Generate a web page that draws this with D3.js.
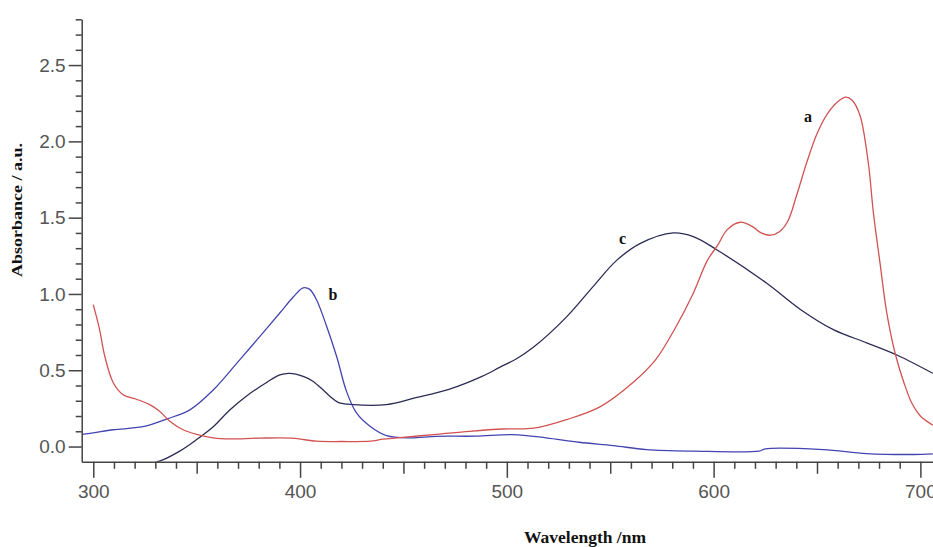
<!DOCTYPE html>
<html lang="en">
<head>
  <meta charset="UTF-8">
  <script src="https://d3js.org/d3.v7.min.js"></script>
  <title>Absorbance spectra</title>
  <style>
    body { margin: 0; background: #fff; }
    svg { display: block; }
  </style>
</head>
<body>
  <div id="chart"></div>
  <script>
    // curve a (red)
    const aWl  = [300, 303, 305.6, 309.6, 314.4, 320.9, 327.3, 332.2, 337, 343.4, 350, 358, 366, 380, 396, 408, 420, 434, 440, 447, 466, 482, 498, 513, 529, 545, 561, 572, 582, 590, 597, 602, 606.5, 612.8, 619, 623, 627.5, 632, 636, 640, 645, 650, 655, 660, 664, 667, 670.8, 674.8, 677.3, 680.5, 683.7, 688, 692, 696, 700, 706];
    const aAbs = [0.93, 0.77, 0.59, 0.42, 0.34, 0.31, 0.275, 0.23, 0.166, 0.11, 0.08, 0.057, 0.05, 0.055, 0.055, 0.035, 0.033, 0.035, 0.048, 0.057, 0.08, 0.10, 0.115, 0.12, 0.177, 0.26, 0.42, 0.57, 0.79, 1.0, 1.22, 1.32, 1.42, 1.47, 1.44, 1.40, 1.385, 1.41, 1.48, 1.64, 1.86, 2.05, 2.18, 2.26, 2.29, 2.27, 2.17, 1.86, 1.53, 1.20, 0.88, 0.60, 0.42, 0.28, 0.20, 0.14];

    // curve b (blue)
    const bWl  = [294.4, 300, 309.6, 324, 335.4, 346.7, 358, 370.9, 380.5, 390.2, 396.7, 401.5, 404.7, 408, 412.8, 417.7, 422.5, 427.3, 433.8, 441.8, 453, 466, 485, 503, 519, 535, 551.5, 567.6, 590, 622, 625, 653, 674, 696.6, 706];
    const bAbs = [0.08, 0.09, 0.11, 0.13, 0.18, 0.24, 0.37, 0.57, 0.72, 0.875, 0.98, 1.04, 1.03, 0.96, 0.79, 0.59, 0.36, 0.22, 0.133, 0.072, 0.057, 0.067, 0.068, 0.078, 0.057, 0.028, 0.006, -0.02, -0.03, -0.03, -0.015, -0.02, -0.046, -0.052, -0.048];

    // curve c (dark)
    const cWl  = [330.5, 332, 341.8, 350, 358, 366, 374, 383.8, 390.2, 395, 401.5, 406, 411.2, 414.4, 418.4, 425.7, 441.8, 456, 472, 488, 496.7, 504.7, 512.8, 528.9, 541.8, 553.1, 564.4, 580.5, 590.2, 601.5, 625.7, 641.8, 657.9, 674, 688.6, 706];
    const cAbs = [-0.1, -0.096, -0.03, 0.046, 0.13, 0.24, 0.33, 0.42, 0.47, 0.48, 0.46, 0.43, 0.37, 0.33, 0.29, 0.275, 0.275, 0.32, 0.375, 0.46, 0.52, 0.575, 0.65, 0.85, 1.05, 1.22, 1.33, 1.40, 1.376, 1.29, 1.07, 0.90, 0.766, 0.68, 0.60, 0.48];

    const xMajor = [300, 400, 500, 600, 700];
    const xMid   = [350, 450, 550, 650];
    const yMajor = [0, 0.5, 1.0, 1.5, 2.0, 2.5];

    const width = 933, height = 547;

    const svg = d3.select('#chart').append('svg')
      .attr('width', width)
      .attr('height', height);

    const x = d3.scaleLinear().domain([294.4, 706.1]).range([81.7, 933]);
    const y = d3.scaleLinear().domain([-0.1, 2.8]).range([461.8, 19.3]);

    // clip to plot area
    svg.append('clipPath').attr('id', 'plot')
      .append('rect')
      .attr('x', x.range()[0]).attr('y', y.range()[1])
      .attr('width', x.range()[1] - x.range()[0])
      .attr('height', y.range()[0] - y.range()[1]);

    const line = d3.line()
      .x(d => x(d[0]))
      .y(d => y(d[1]))
      .curve(d3.curveCatmullRom.alpha(0.5));

    const series = [
      { wl: cWl, abs: cAbs, color: '#2b2b55' },
      { wl: bWl, abs: bAbs, color: '#4444b0' },
      { wl: aWl, abs: aAbs, color: '#d25252' }
    ];

    svg.append('g').attr('clip-path', 'url(#plot)')
      .selectAll('path')
      .data(series)
      .enter()
      .append('path')
      .attr('d', s => line(d3.zip(s.wl, s.abs)))
      .attr('fill', 'none')
      .attr('stroke', s => s.color)
      .attr('stroke-width', 1.3);

    // axes
    const axisColor = '#444';
    const styleAxis = g => {
      g.selectAll('path, line').attr('stroke', axisColor).attr('stroke-width', 1.5);
      g.selectAll('text')
        .attr('fill', '#555')
        .style('font-family', '"Liberation Sans", Arial, sans-serif')
        .style('font-size', '19px');
    };

    const xMinor = d3.range(300, 710, 10).filter(v => v % 50 !== 0);

    svg.append('g')
      .attr('transform', `translate(0,${y(-0.1)})`)
      .call(d3.axisBottom(x).tickValues(xMinor).tickSize(7).tickSizeOuter(0).tickFormat(''))
      .call(g => g.select('.domain').remove())
      .call(styleAxis);

    svg.append('g')
      .attr('transform', `translate(0,${y(-0.1)})`)
      .call(d3.axisBottom(x).tickValues(xMid).tickSize(12).tickSizeOuter(0).tickFormat(''))
      .call(g => g.select('.domain').remove())
      .call(styleAxis);

    svg.append('g')
      .attr('transform', `translate(0,${y(-0.1)})`)
      .call(d3.axisBottom(x).tickValues(xMajor).tickSize(16).tickSizeOuter(0).tickPadding(7).tickFormat(d3.format('d')))
      .call(styleAxis);

    const yMinor = d3.range(1, 29).map(v => v / 10).filter(v => Math.round(v * 10) % 5 !== 0);

    svg.append('g')
      .attr('transform', `translate(${x.range()[0]},0)`)
      .call(d3.axisLeft(y).tickValues(yMinor).tickSize(6).tickSizeOuter(0).tickFormat(''))
      .call(g => g.select('.domain').remove())
      .call(styleAxis);

    svg.append('g')
      .attr('transform', `translate(${x.range()[0]},0)`)
      .call(d3.axisLeft(y).tickValues(yMajor).tickSize(13).tickSizeOuter(0).tickPadding(3).tickFormat(d3.format('.1f')))
      .call(styleAxis);

    // axis titles
    svg.append('text')
      .attr('x', 585).attr('y', 543)
      .attr('text-anchor', 'middle')
      .attr('textLength', 122).attr('lengthAdjust', 'spacingAndGlyphs')
      .style('font-family', '"Liberation Serif", "DejaVu Serif", serif')
      .style('font-weight', 'bold')
      .style('font-size', '16px')
      .attr('fill', '#111')
      .text('Wavelength /nm');

    svg.append('text')
      .attr('transform', 'translate(22,210) rotate(-90)')
      .attr('text-anchor', 'middle')
      .attr('textLength', 134).attr('lengthAdjust', 'spacingAndGlyphs')
      .style('font-family', '"Liberation Serif", "DejaVu Serif", serif')
      .style('font-weight', 'bold')
      .style('font-size', '15px')
      .attr('fill', '#111')
      .text('Absorbance / a.u.');

    // curve labels
    const curveLabels = [
      { t: 'a', wl: 645.7, abs: 2.13 },
      { t: 'b', wl: 415.9, abs: 0.96 },
      { t: 'c', wl: 556, abs: 1.33 }
    ];

    svg.selectAll('.clabel')
      .data(curveLabels)
      .enter()
      .append('text')
      .attr('class', 'clabel')
      .attr('x', d => x(d.wl))
      .attr('y', d => y(d.abs))
      .attr('text-anchor', 'middle')
      .style('font-family', '"Liberation Serif", "DejaVu Serif", serif')
      .style('font-weight', 'bold')
      .style('font-size', '16px')
      .attr('fill', '#111')
      .text(d => d.t);
  </script>
</body>
</html>
